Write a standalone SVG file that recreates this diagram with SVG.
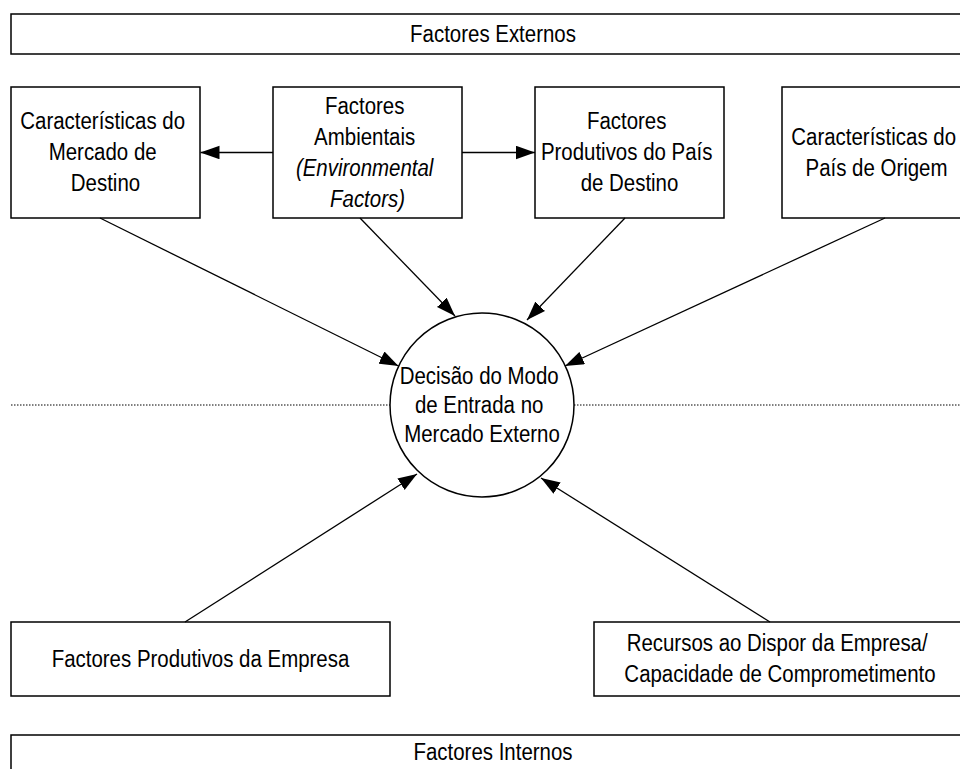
<svg xmlns="http://www.w3.org/2000/svg" width="960" height="769" viewBox="0 0 960 769">
  <defs>
    <style>
      .box { fill: #fff; stroke: #000; stroke-width: 1.5; }
      .t { font-family: "Liberation Sans", Arial, sans-serif; font-size: 23.5px; fill: #000; text-anchor: middle; }
      .it { font-style: italic; }
      .link { stroke: #000; stroke-width: 1.3; fill: none; marker-end: url(#arrow); }
      .sep { stroke: #000; stroke-width: 1; stroke-dasharray: 1.5 1.5; fill: none; }
    </style>
    <marker id="arrow" markerUnits="userSpaceOnUse" markerWidth="19" markerHeight="14" refX="19" refY="6.75" orient="auto">
      <path d="M0,0 L19,6.75 L0,13.5 z" fill="#000"/>
    </marker>
  </defs>
  <rect width="960" height="769" fill="#fff"/>

  <!-- boundary between external and internal factors -->
  <g id="separator">
    <line class="sep" x1="11" y1="405" x2="390" y2="405"/>
    <line class="sep" x1="574" y1="405" x2="960" y2="405"/>
  </g>

  <g id="externos">
    <rect class="box" x="11" y="14" width="964" height="40"/>
    <text class="t" transform="translate(493 0) scale(0.87 1)" x="0" y="42">Factores Externos</text>
  </g>

  <g id="mercado-destino">
    <rect class="box" x="11" y="87" width="189" height="131"/>
    <text class="t" transform="translate(105.5 0) scale(0.87 1)">
      <tspan x="0" y="129.5">Características do</tspan>
      <tspan x="0" y="160.5">Mercado de</tspan>
      <tspan x="0" y="191.5">Destino</tspan>
    </text>
  </g>

  <g id="ambientais">
    <rect class="box" x="273" y="87" width="189" height="131"/>
    <text class="t" transform="translate(367.5 0) scale(0.87 1)">
      <tspan x="0" y="114">Factores</tspan>
      <tspan x="0" y="145">Ambientais</tspan>
      <tspan x="0" y="176" class="it">(Environmental</tspan>
      <tspan x="0" y="207" class="it">Factors)</tspan>
    </text>
  </g>

  <g id="produtivos-destino">
    <rect class="box" x="535" y="87" width="189" height="131"/>
    <text class="t" transform="translate(629.5 0) scale(0.87 1)">
      <tspan x="0" y="129.5">Factores</tspan>
      <tspan x="0" y="160.5">Produtivos do País</tspan>
      <tspan x="0" y="191.5">de Destino</tspan>
    </text>
  </g>

  <g id="pais-origem">
    <rect class="box" x="782" y="87" width="189" height="131"/>
    <text class="t" transform="translate(876.5 0) scale(0.87 1)">
      <tspan x="0" y="145">Características do</tspan>
      <tspan x="0" y="176">País de Origem</tspan>
    </text>
  </g>

  <g id="decisao">
    <circle class="box" cx="482" cy="405" r="92"/>
    <text class="t" transform="translate(482 0) scale(0.87 1)">
      <tspan x="0" y="384">Decisão do Modo</tspan>
      <tspan x="0" y="413">de Entrada no</tspan>
      <tspan x="0" y="442">Mercado Externo</tspan>
    </text>
  </g>

  <g id="produtivos-empresa">
    <rect class="box" x="11" y="622" width="379" height="74"/>
    <text class="t" transform="translate(200.5 0) scale(0.87 1)" x="0" y="667">Factores Produtivos da Empresa</text>
  </g>

  <g id="recursos">
    <rect class="box" x="594" y="622" width="372" height="74"/>
    <text class="t" transform="translate(780 0) scale(0.87 1)">
      <tspan x="0" y="651.5">Recursos ao Dispor da Empresa/</tspan>
      <tspan x="0" y="682.5">Capacidade de Comprometimento</tspan>
    </text>
  </g>

  <g id="internos">
    <rect class="box" x="11" y="735" width="964" height="40"/>
    <text class="t" transform="translate(493 0) scale(0.87 1)" x="0" y="760">Factores Internos</text>
  </g>

  <g id="connectors">
    <line class="link" x1="273" y1="152.5" x2="200.5" y2="152.5"/>
    <line class="link" x1="462" y1="152.5" x2="535" y2="152.5"/>
    <line class="link" x1="100" y1="218" x2="398.5" y2="366"/>
    <line class="link" x1="360" y1="218" x2="455" y2="316"/>
    <line class="link" x1="625" y1="218" x2="527" y2="320"/>
    <line class="link" x1="885" y1="218" x2="565" y2="366"/>
    <line class="link" x1="185" y1="622" x2="417" y2="474"/>
    <line class="link" x1="770" y1="622" x2="541" y2="478"/>
  </g>
</svg>
